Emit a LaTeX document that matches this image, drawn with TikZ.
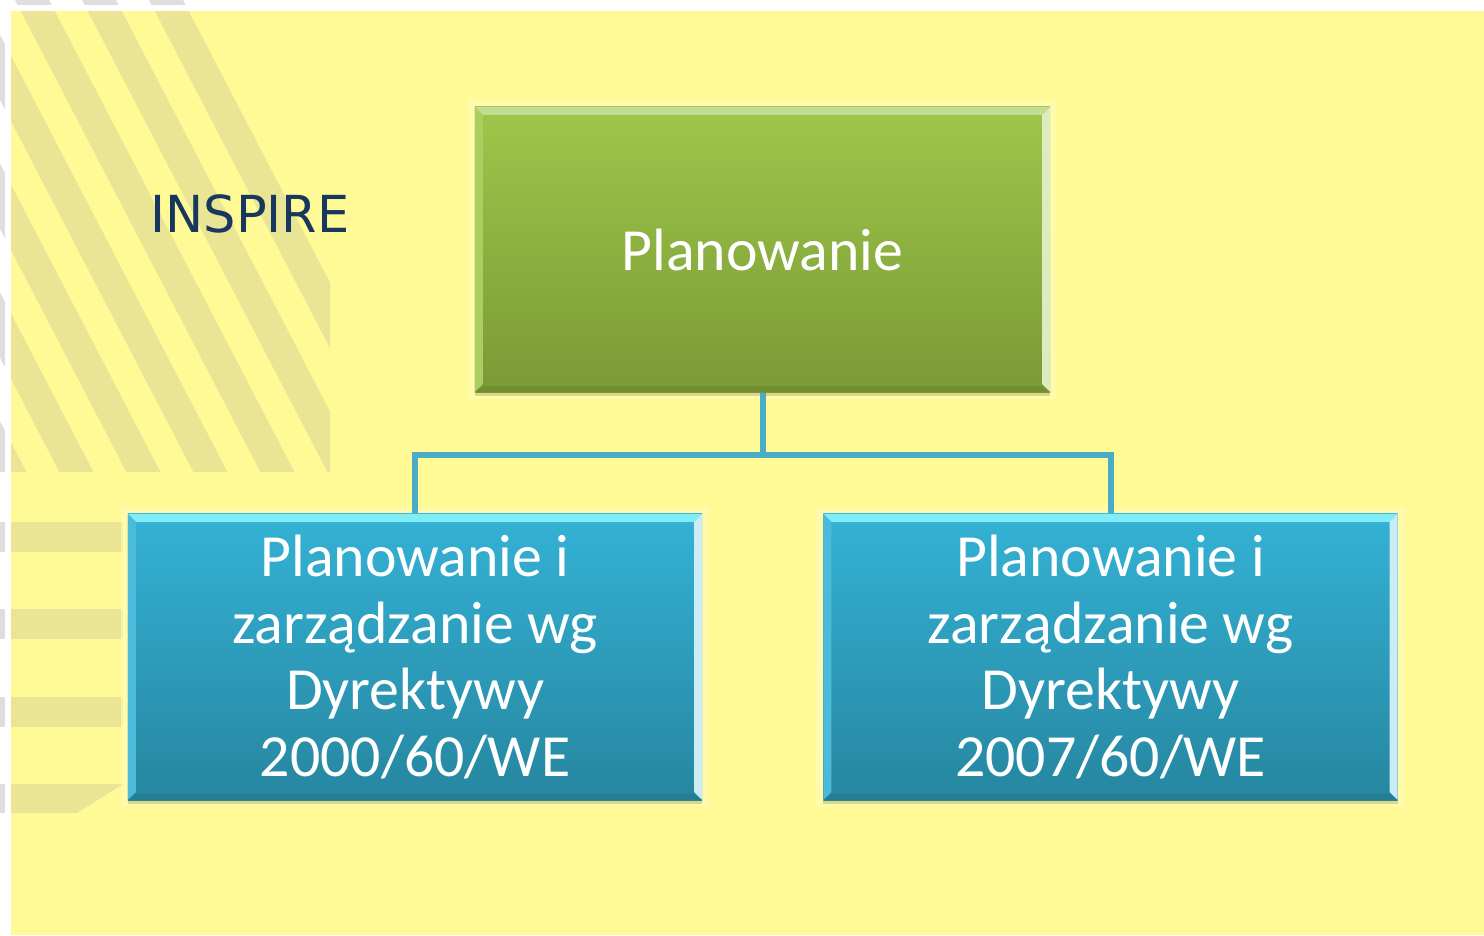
\documentclass[tikz,border=0pt]{standalone}
\usepackage{fontspec}
\setmainfont{Carlito}
\newfontfamily\inspirefont{DejaVu Sans}
\usetikzlibrary{shadows}

\definecolor{bgyellow}{RGB}{255,250,150}
\definecolor{halo}{RGB}{255,252,185}
\definecolor{stripe}{RGB}{234,229,148}
\definecolor{stripegray}{RGB}{222,222,222}
\definecolor{greentop}{RGB}{158,199,74}
\definecolor{greenbot}{RGB}{122,154,54}
\definecolor{bluetop}{RGB}{52,178,213}
\definecolor{bluebot}{RGB}{38,134,160}
\definecolor{linkblue}{RGB}{75,172,198}
\definecolor{navy}{RGB}{23,55,94}
\definecolor{shadowc}{RGB}{200,190,110}

% diagonal and flat stripes of the slide background
\newcommand\drawstripes[2]{%
  \begin{scope}
    \clip (#2,#2) rectangle (330,472);
    \foreach \k in {-7,...,2}
      \fill[#1] ({15+67*\k},0) -- ++(34,0) -- ++({0.52*472},472) -- ++(-34,0) -- cycle;
  \end{scope}
  \foreach \y in {522,609,697}
    \fill[#1] (#2,\y) rectangle (123,\y+30);
  \fill[#1] (#2,784) -- (123,784) -- (77,813) -- (#2,813) -- cycle;
}

\begin{document}
\begin{tikzpicture}[x=0.01cm,y=-0.01cm]

\tikzset{box/.style = {rectangle, minimum width=5.74cm, minimum height=2.86cm, inner sep=0pt,
  align=center, text=white, font=\fontsize{17}{19}\selectfont,
  preaction={draw=halo, line width=0.14cm, opacity=0.6},
  drop shadow={shadow xshift=0cm, shadow yshift=-0.04cm, fill=shadowc, opacity=0.6}}}
\tikzset{bevel/.style n args = {4}{path picture={
  \fill[#1] (path picture bounding box.north west) -- (path picture bounding box.north east)
    -- ([shift={(-0.08cm,-0.08cm)}]path picture bounding box.north east)
    -- ([shift={(0.08cm,-0.08cm)}]path picture bounding box.north west) -- cycle;
  \fill[#2] (path picture bounding box.north west) -- (path picture bounding box.south west)
    -- ([shift={(0.08cm,0.08cm)}]path picture bounding box.south west)
    -- ([shift={(0.08cm,-0.08cm)}]path picture bounding box.north west) -- cycle;
  \fill[#3] (path picture bounding box.north east) -- (path picture bounding box.south east)
    -- ([shift={(-0.08cm,0.08cm)}]path picture bounding box.south east)
    -- ([shift={(-0.08cm,-0.08cm)}]path picture bounding box.north east) -- cycle;
  \fill[#4] (path picture bounding box.south west) -- (path picture bounding box.south east)
    -- ([shift={(-0.08cm,0.06cm)}]path picture bounding box.south east)
    -- ([shift={(0.08cm,0.06cm)}]path picture bounding box.south west) -- cycle;
}}}
\tikzset{greenbox/.style = {box, top color=greentop, bottom color=greenbot,
  bevel={greentop!60!white}{greentop!88!white}{greentop!35!white}{greenbot!93!black}}}
\tikzset{bluebox/.style = {box, top color=bluetop, bottom color=bluebot,
  bevel={bluetop!45!cyan!55!white}{bluetop!88!white}{bluetop!25!white}{bluebot!93!black}}}
\tikzset{link/.style = {draw=linkblue, line width=0.06cm}}

\useasboundingbox (0,0) rectangle (1484,936);
%background
\drawstripes{stripegray}{0}
\fill[white] (5,5) rectangle (1484,936);
\fill[bgyellow] (11,11) rectangle (1484,935);
\drawstripes{stripe}{11}

%title
\node[font=\inspirefont\fontsize{14.5}{16}\selectfont, text=navy] (inspire) at (250,214) {INSPIRE};

%boxes
\node[greenbox, minimum width=5.75cm, minimum height=2.85cm] (plan) at (762.5,249.5) {Planowanie};
\node[bluebox] (dyr1) at (415,657) {Planowanie i\\zarządzanie wg\\Dyrektywy\\2000/60/WE};
\node[bluebox] (dyr2) at (1110.5,657) {Planowanie i\\zarządzanie wg\\Dyrektywy\\2007/60/WE};

%connectors
\coordinate (bus) at (762.5,455);
\draw[link] (plan.south) -- (bus);
\draw[link] (bus) -| (dyr1.north);
\draw[link] (bus) -| (dyr2.north);

\end{tikzpicture}
\end{document}
